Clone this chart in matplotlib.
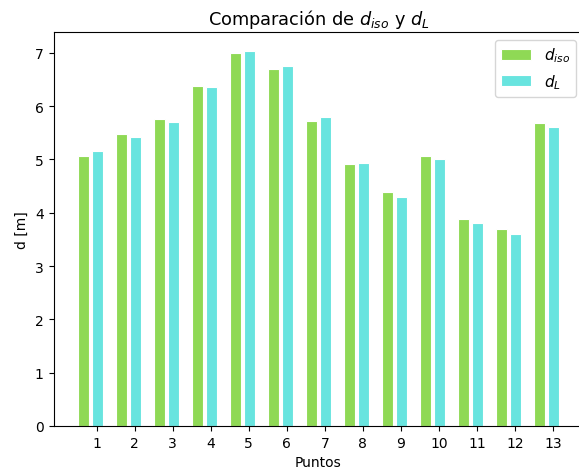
import numpy as np
import matplotlib
matplotlib.use('Agg')
import matplotlib.pyplot as plt

puntos = [1, 2, 3, 4, 5, 6, 7, 8, 9, 10, 11, 12, 13]
d_iso = [5.07, 5.48, 5.76, 6.38, 7.00, 6.70, 5.72, 4.92, 4.39, 5.07, 3.88, 3.70, 5.69]
d_L = [5.16, 5.42, 5.71, 6.36, 7.04, 6.76, 5.80, 4.94, 4.30, 5.01, 3.81, 3.60, 5.61]

x = np.array(puntos)
w = 0.3

fig = plt.figure(figsize=(5.79, 4.77), dpi=100)
# the right spine falls just outside the saved picture
ax = fig.add_axes([53.5/579, 50/477, 530/579, 394/477])
ax.bar(x - 0.35, d_iso, w, color='#8fd955', edgecolor='white', linewidth=0.8, label='$d_{iso}$')
ax.bar(x + 0.02, d_L, w, color='#68e4df', edgecolor='white', linewidth=0.8, label='$d_L$')
ax.set_xticks(x)
ax.set_title('Comparación de $d_{iso}$ y $d_L$', fontsize=12.8)
ax.set_xlabel('Puntos')
ax.set_ylabel('d [m]')
ax.legend(loc='upper right', fontsize=11)
fig.savefig('out.png', dpi=100)
